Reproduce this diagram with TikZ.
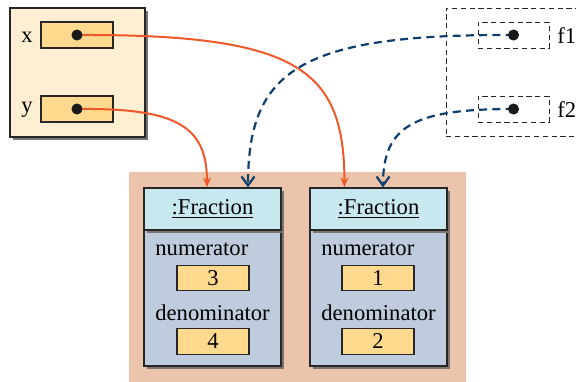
\documentclass[tikz,border=0pt]{standalone}
\usepackage{fontspec}
\setmainfont{Liberation Serif}
\usetikzlibrary{arrows.meta,shadows}
\definecolor{stackfill}{HTML}{FFEFD2}
\definecolor{slotfill}{HTML}{FFD98E}
\definecolor{heapfill}{HTML}{EBC4AB}
\definecolor{headfill}{HTML}{C7E8EF}
\definecolor{bodyfill}{HTML}{BFCCDD}
\definecolor{refred}{HTML}{F0582A}
\definecolor{refblue}{HTML}{0E3F6E}
\definecolor{shadowgray}{HTML}{7A7570}
\tikzset{
  shad/.style={drop shadow={shadow xshift=1.5pt,shadow yshift=-1.5pt,fill=shadowgray,opacity=1}},
  slot/.style={draw=black!85,line width=0.65pt,fill=slotfill,minimum width=36pt,minimum height=13pt,inner sep=0pt},
  dslot/.style={draw=black!85,line width=0.5pt,dash pattern=on 2.6pt off 1.8pt,minimum width=35.5pt,minimum height=13pt,inner sep=0pt},
  dot/.style={circle,fill=black!90,minimum size=5.4pt,inner sep=0pt},
  lbl/.style={inner sep=0pt},
  head/.style={draw=black!85,line width=0.65pt,fill=headfill,minimum width=68.5pt,minimum height=21pt,inner sep=0pt},
  body/.style={draw=black!85,line width=0.65pt,fill=bodyfill,minimum width=68.5pt,minimum height=68pt,inner sep=0pt},
  val/.style={draw=black!85,line width=0.65pt,fill=slotfill,minimum width=36pt,minimum height=12.8pt,inner sep=0pt},
  redarr/.style={draw=refred,line width=1pt,-{Stealth[length=5pt,width=4pt]}},
  bluearr/.style={draw=refblue,line width=1.1pt,dash pattern=on 4pt off 2.6pt,-{Straight Barb[length=4.5pt,width=6.5pt]}}
}
\begin{document}
\begin{tikzpicture}[x=0.5pt,y=-0.5pt,font=\fontsize{11.3}{13}\selectfont]
\clip (0,0) rectangle (576,381);
\useasboundingbox (0,0) rectangle (576,381);
% stack frame
\node[shad,draw=black!85,line width=0.65pt,fill=stackfill,minimum width=67.5pt,minimum height=64.5pt,inner sep=0pt] (stack) at (77.5,72.5) {};
\node[slot] (xs) at (77,35) {};
\node[slot] (ys) at (77,109) {};
\node[lbl] (xl) at (27,37) {x};
\node[lbl] (yl) at (27,110) {y};
\node[dot] (xd) at (xs.center) {};
\node[dot] (yd) at (ys.center) {};
% dashed frame
\node[draw=black!85,line width=0.5pt,dash pattern=on 2.6pt off 1.8pt,minimum width=72pt,minimum height=64pt,inner sep=0pt] (fframe) at (518,72) {};
\node[dslot] (f1s) at (513.5,35) {};
\node[dslot] (f2s) at (513.5,109) {};
\node[lbl,anchor=west] (f1l) at (557,36) {f1};
\node[lbl,anchor=west] (f2l) at (557,110) {f2};
\node[dot] (f1d) at (f1s.center) {};
\node[dot] (f2d) at (f2s.center) {};
% heap
\node[fill=heapfill,minimum width=168.5pt,minimum height=105pt,inner sep=0pt] (heap) at (297.5,276.5) {};
% fraction 1
\node[shad,body] (b1) at (212.5,298) {};
\node[shad,head] (h1) at (212.5,209) {\underline{:Fraction}};
\node[lbl,anchor=west] (n1) at (155,249) {numerator};
\node[val] (v1) at (213,278) {3};
\node[lbl,anchor=west] (d1) at (155,313) {denominator};
\node[val] (w1) at (213,341.5) {4};
% fraction 2
\node[shad,body] (b2) at (378.5,298) {};
\node[shad,head] (h2) at (378.5,209) {\underline{:Fraction}};
\node[lbl,anchor=west] (n2) at (321,249) {numerator};
\node[val] (v2) at (378,278) {1};
\node[lbl,anchor=west] (d2) at (321,313) {denominator};
\node[val] (w2) at (378,341.5) {2};
% references
\draw[redarr] (xd.center) .. controls (300,34) and (344,70) .. ([xshift=-17pt]h2.north);
\draw[redarr] (yd.center) .. controls (175,108) and (207,125) .. ([xshift=-2.75pt]h1.north);
\draw[bluearr] (f1d.center) .. controls (300,34) and (248,70) .. ([xshift=17.75pt]h1.north);
\draw[bluearr] (f2d.center) .. controls (415,109) and (383,125) .. ([xshift=2.25pt]h2.north);
\node[dot] at (xd) {};
\node[dot] at (yd) {};
\node[dot] at (f1d) {};
\node[dot] at (f2d) {};
\end{tikzpicture}
\end{document}
